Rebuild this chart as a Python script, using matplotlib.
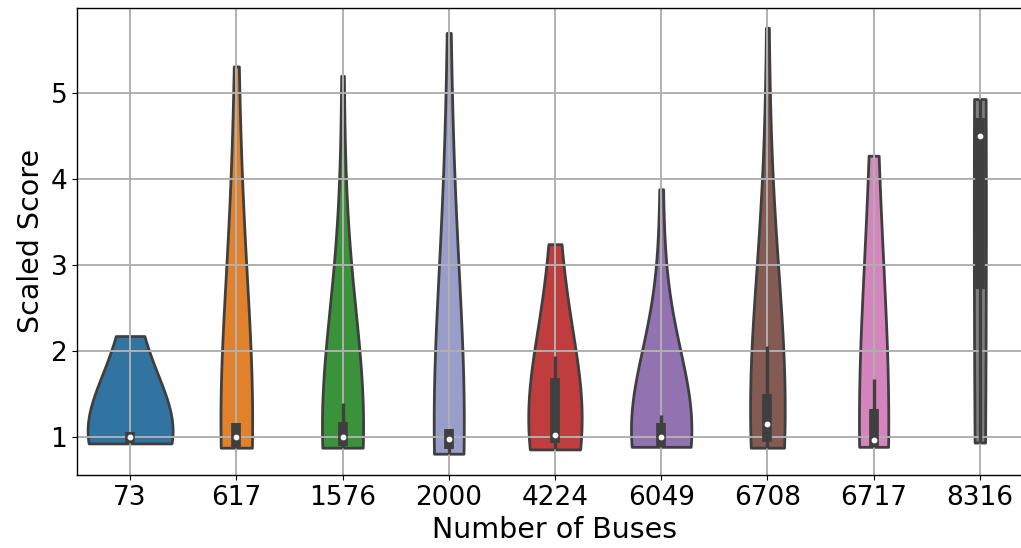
import numpy as np
import pandas as pd
import matplotlib
matplotlib.use('Agg')
import matplotlib.pyplot as plt
import seaborn as sns

# categorias (numero de barras) e os scores de cada caso
buses = ['73', '617', '1576', '2000', '4224', '6049', '6708', '6717', '8316']

scores_73 = [0.92, 0.92, 0.925, 0.93, 0.95, 0.98, 1.00, 1.02, 1.04, 1.05,
             1.50, 1.75, 2.17]
scores_617 = [0.87, 0.87, 0.875, 0.875, 0.88, 0.88, 0.88, 0.90, 0.93, 0.95,
              0.97, 0.98, 0.99, 1.00, 1.03, 1.06, 1.09, 1.12, 1.16,
              1.90, 2.50, 3.00, 3.50, 4.00, 5.31]
scores_1576 = [0.87, 0.87, 0.875, 0.875, 0.88, 0.88, 0.885, 0.90, 0.92, 0.95,
               0.97, 0.98, 0.99, 1.01, 1.04, 1.07, 1.10, 1.14, 1.17,
               1.39, 1.70, 2.00, 2.40, 2.90, 5.20]
scores_2000 = [0.80, 0.80, 0.81, 0.82, 0.83, 0.84, 0.85, 0.87, 0.89, 0.91,
               0.93, 0.95, 0.97, 0.99, 1.01, 1.03, 1.05, 1.07, 1.09,
               2.00, 2.60, 3.00, 3.40, 4.00, 5.70]
scores_4224 = [0.85, 0.86, 0.875, 0.89, 0.905, 0.92, 0.95, 0.97, 0.99, 1.00,
               1.02, 1.15, 1.28, 1.41, 1.55, 1.68, 1.78, 1.87, 1.94,
               2.95, 3.24]
scores_6049 = [0.88, 0.88, 0.885, 0.885, 0.89, 0.89, 0.89, 0.91, 0.93, 0.95,
               0.97, 0.98, 1.00, 1.02, 1.04, 1.07, 1.10, 1.13, 1.16,
               1.25, 1.60, 1.70, 1.85, 2.20, 3.88]
scores_6708 = [0.87, 0.88, 0.89, 0.90, 0.91, 0.93, 0.94, 0.98, 1.02, 1.06,
               1.09, 1.12, 1.15, 1.20, 1.26, 1.32, 1.38, 1.44, 1.49,
               2.05, 2.40, 2.65, 2.90, 3.30, 5.76]
scores_6717 = [0.88, 0.885, 0.89, 0.92, 0.96, 1.10, 1.32, 1.67, 4.27]
scores_8316 = [0.93, 4.50, 4.93]

all_scores = [scores_73, scores_617, scores_1576, scores_2000, scores_4224,
              scores_6049, scores_6708, scores_6717, scores_8316]

colors = ['#3274a1', '#e1812c', '#3a923a', '#989dc9', '#c03d3e',
          '#9372b2', '#845b53', '#d684bd', '#7f7f7f']
line_color = '#3f3f3f'

# monta o dataframe no formato longo
rows = []
for b, vals in zip(buses, all_scores):
    for v in vals:
        rows.append((b, v))
df = pd.DataFrame(rows, columns=['Number of Buses', 'Scaled Score'])

fig = plt.figure(figsize=(10.21, 5.48), dpi=100)
ax = fig.add_axes([0.0754, 0.1332, 0.9363, 0.8531])

sns.violinplot(data=df, x='Number of Buses', y='Scaled Score',
               hue='Number of Buses', order=buses, hue_order=buses,
               palette=colors, saturation=1, cut=0, inner=None,
               bw_adjust=2.6, density_norm='area', common_norm=True,
               linewidth=2.0, linecolor=line_color, legend=False, ax=ax)

# caixa interna: quartis, bigodes e mediana
for i, vals in enumerate(all_scores):
    v = np.array(vals)
    q1, med, q3 = np.percentile(v, [25, 50, 75])
    iqr = q3 - q1
    lo = v[v >= q1 - 1.5 * iqr].min()
    hi = v[v <= q3 + 1.5 * iqr].max()
    ax.plot([i, i], [lo, hi], color=line_color, lw=2.4, solid_capstyle='butt', zorder=2)
    ax.plot([i, i], [q1, q3], color=line_color, lw=7, solid_capstyle='butt', zorder=2)
    ax.scatter([i], [med], s=10, color='white', zorder=3)

ax.grid(True, color='#b0b0b0', linewidth=1.4)
ax.set_xlim(-0.5, 8.5)
ax.set_ylim(0.552, 5.996)
ax.set_yticks([1, 2, 3, 4, 5])
ax.set_xlabel('Number of Buses', fontsize=20.5)
ax.set_ylabel('Scaled Score', fontsize=20.5)
ax.tick_params(labelsize=19)
for s in ax.spines.values():
    s.set_linewidth(1.0)

fig.savefig('out.png', dpi=100)
